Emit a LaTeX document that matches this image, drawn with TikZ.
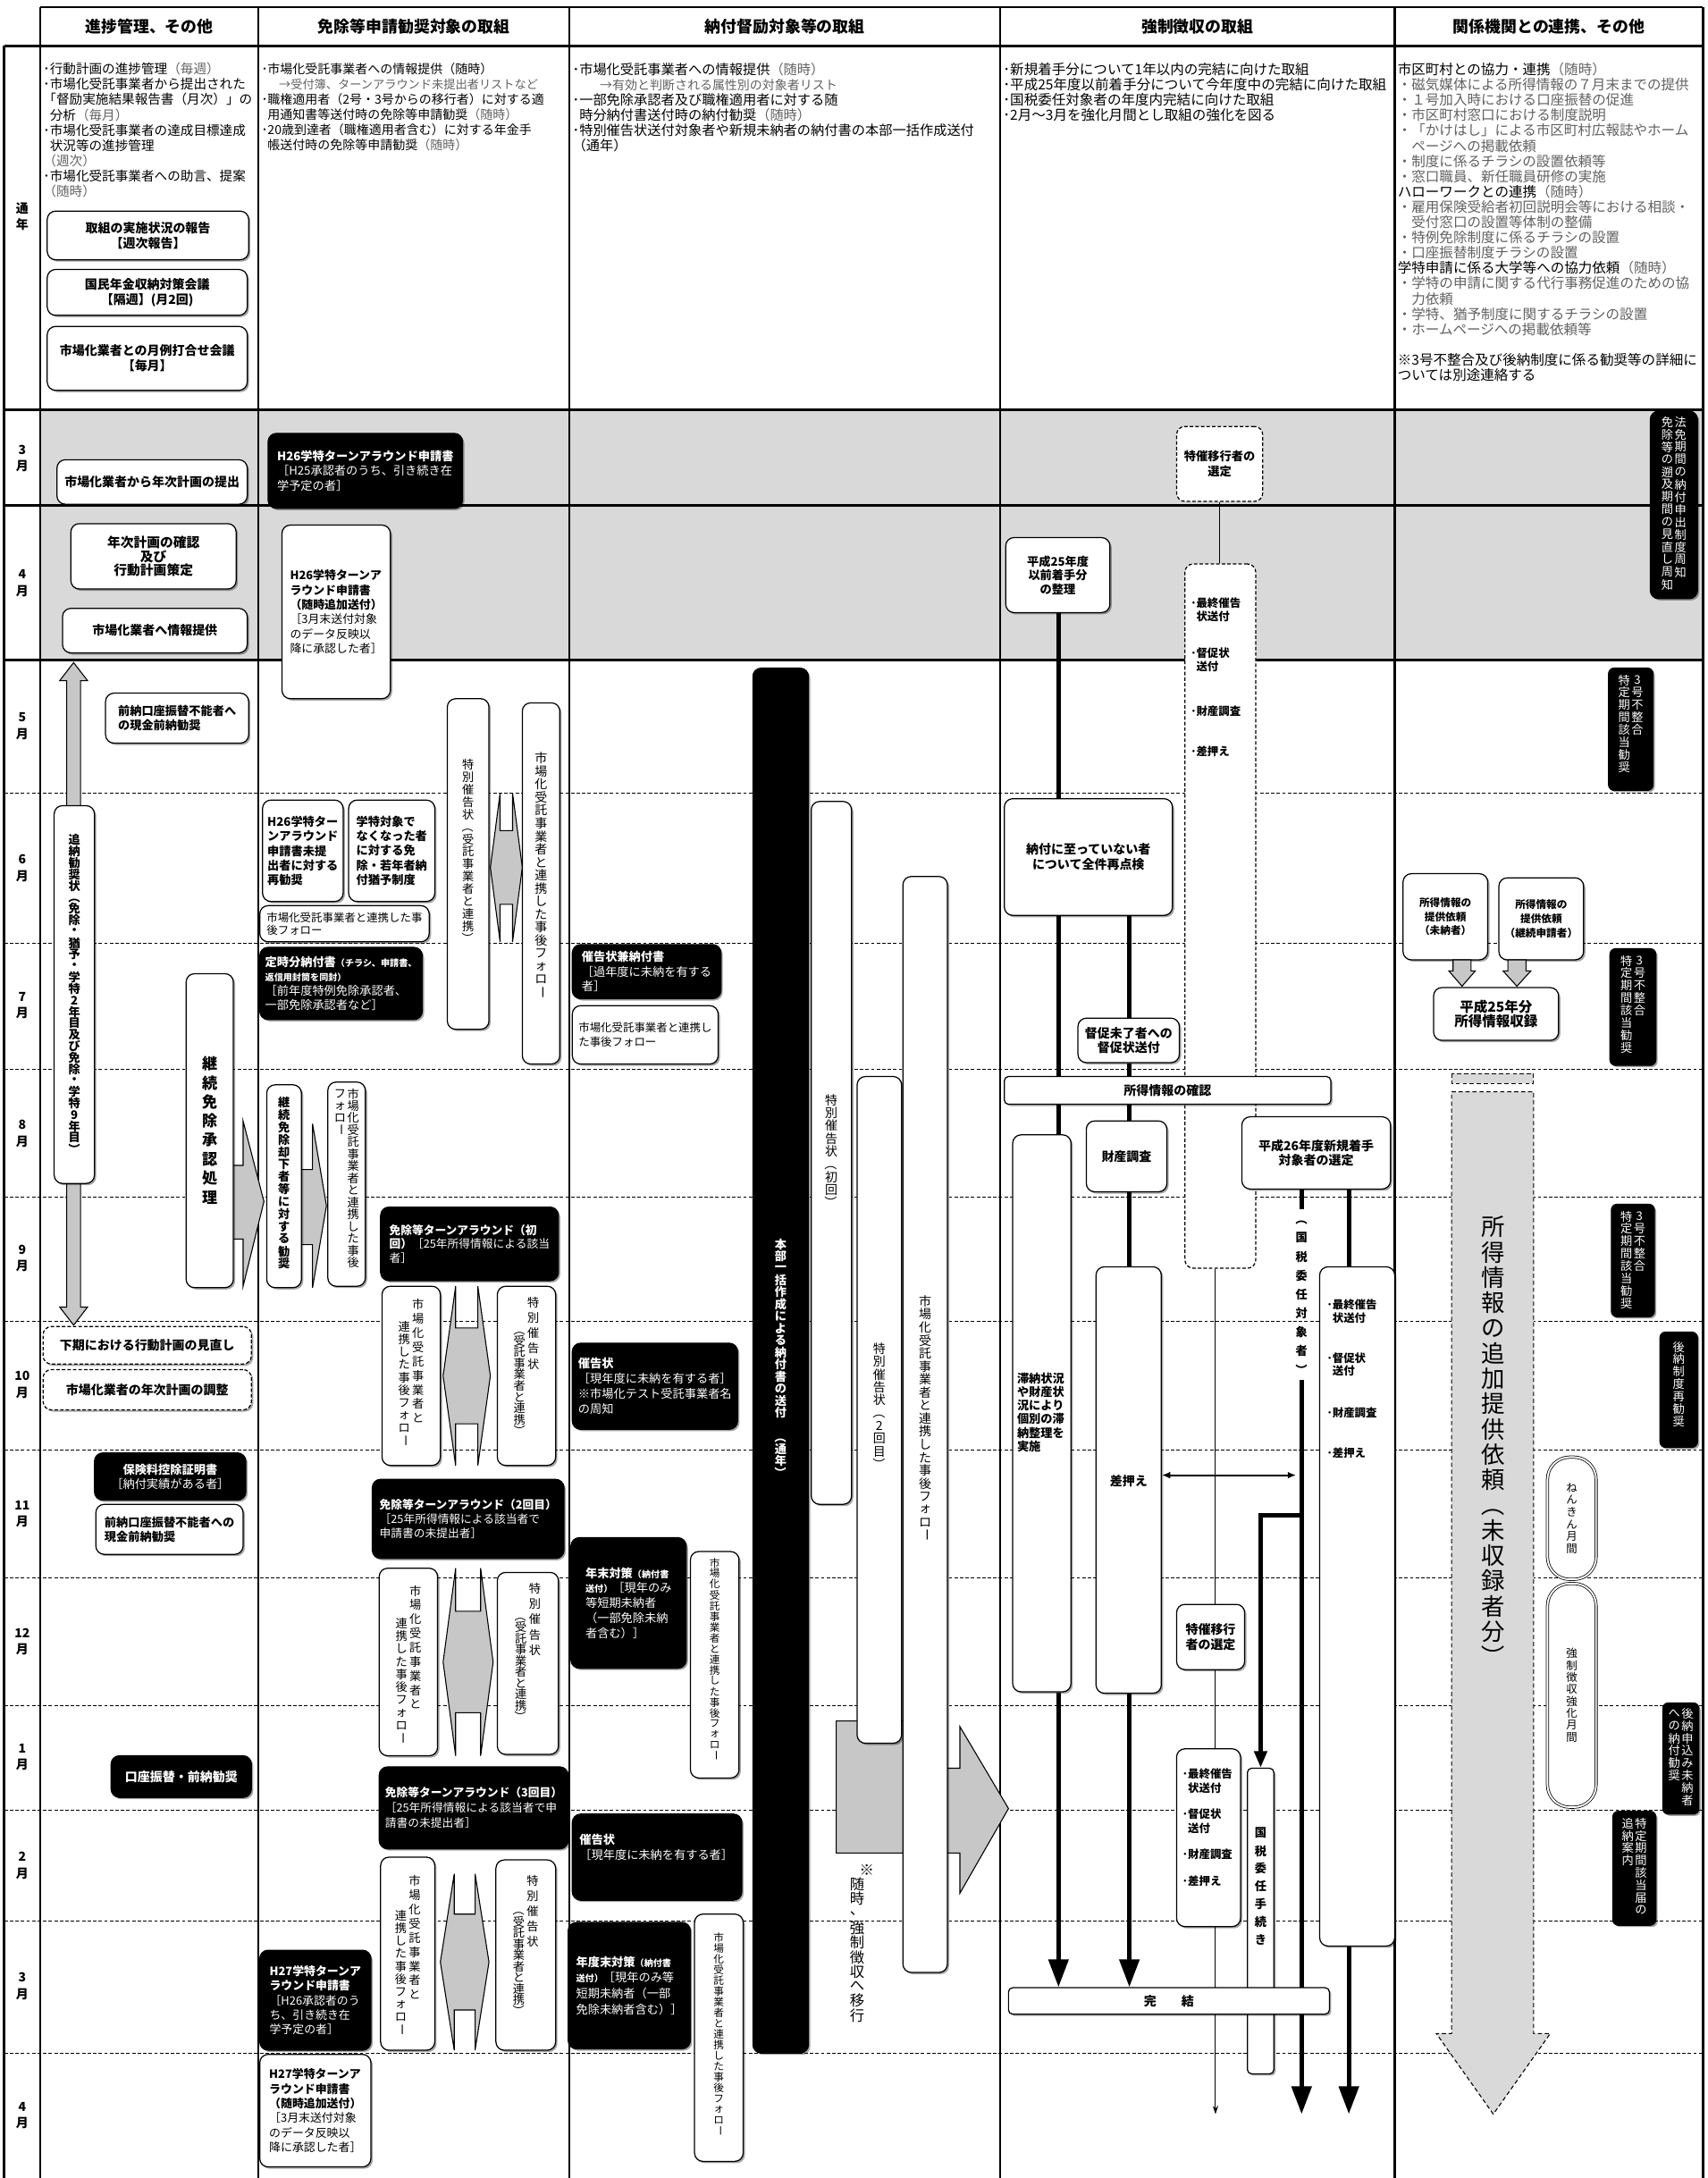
\documentclass[tikz,border=0pt]{standalone}
\usepackage{fontspec}
\setmainfont{Noto Sans CJK JP}
\usepackage{graphicx}
\usetikzlibrary{shadows,arrows.meta}
\definecolor{gtx}{gray}{0.38}
\definecolor{rowg}{gray}{0.85}
\definecolor{arrg}{gray}{0.78}
\newcommand\gr{\color{gtx}}
\newcommand\fBm{\fontsize{9}{11}\selectfont\bfseries}
\newcommand\fB{\fontsize{8.5}{10.5}\selectfont\bfseries}
\newcommand\fS{\fontsize{8.5}{10.5}\selectfont}
\newcommand\vpl{\rotatebox[origin=c]{-90}{（}}
\newcommand\vpr{\rotatebox[origin=c]{-90}{）}}
\newcommand\vbar{\rotatebox[origin=c]{-90}{ー}}
\makeatletter
\def\vt@stop{\vt@stop}
\newcommand\vtext[2][1.05]{\vtop{\offinterlineskip\def\vt@p{#1}\vt@loop#2\vt@stop}}
\def\vt@loop#1{\ifx\vt@stop#1\else\hbox to 1em{\hss\vbox to \vt@p em{\vss\hbox{#1}\vss}\hss}\expandafter\vt@loop\fi}
\makeatother
\newcommand\vcolumn[3][0pt]{\vtop{\kern#1\hbox{\vtext[#2]{#3}}}}
\newcommand\bxn[8][]{%
 \pgfmathsetmacro\bxW{#6-#4}\pgfmathsetmacro\bxH{#7-#5}%
 \pgfmathsetmacro\bxX{(#4+#6)/2}\pgfmathsetmacro\bxY{(#5+#7)/2}%
 \node[#2,minimum width=\bxW pt,minimum height=\bxH pt,#1] (#3) at (\bxX,\bxY) {#8};}
\newcommand\lra[6]{\draw[garr] (#1,#2+#4/2) -- (#1+#5,#2) -- (#1+#5,#2+#6) -- (#1+#3-#5,#2+#6) -- (#1+#3-#5,#2) -- (#1+#3,#2+#4/2) -- (#1+#3-#5,#2+#4) -- (#1+#3-#5,#2+#4-#6) -- (#1+#5,#2+#4-#6) -- (#1+#5,#2+#4) -- cycle;}
\pgfdeclarelayer{back}\pgfdeclarelayer{mid}\pgfsetlayers{back,mid,main}
\tikzset{
 mline/.style={line width=1.6pt},
 dline/.style={line width=0.6pt,dash pattern=on 2.5pt off 1.5pt},
 shd/.style={drop shadow={shadow xshift=1.3pt,shadow yshift=-1.3pt,fill=black,opacity=0.35}},
 wbox/.style={draw,line width=0.8pt,rounded corners=6pt,fill=white,inner sep=1.5pt,shd},
 blkbox/.style={wbox,fill=black,text=white},
 dbox/.style={draw,line width=0.8pt,rounded corners=6pt,fill=white,inner sep=1.5pt,dash pattern=on 2.5pt off 1.5pt},
 sbox/.style={wbox,rounded corners=3pt},
 stad/.style={draw,line width=0.5pt,double,double distance=1.2pt,rounded corners=16pt,fill=white,inner sep=0pt},
 thk/.style={line width=3.3pt},
 thinln/.style={line width=0.6pt},
 garr/.style={draw=black,line width=0.7pt,fill=arrg},
 dasharr/.style={draw,line width=0.7pt,dash pattern=on 3pt off 2pt,fill=rowg},
 vtxt/.style={inner sep=0pt,font=\fontsize{8.5}{8.5}\selectfont},
 itm/.style={anchor=west,inner sep=0pt,font=\fontsize{8}{9}\selectfont\bfseries},
 hdr/.style={inner sep=0pt,font=\fontsize{11.5}{13}\selectfont\bfseries},
 mlab/.style={align=center,inner sep=0pt,font=\fontsize{9}{12}\selectfont\bfseries},
 bodyt/.style={anchor=north west,inner sep=0pt,align=left},
}
\begin{document}
\begin{tikzpicture}[x=1pt,y=-1pt]
\useasboundingbox (0,0) rectangle (1229,1568);
\begin{pgfonlayer}{back}
 \fill[white] (0,0) rectangle (1229,1568);
 \fill[rowg] (29,295) rectangle (1226,475);
 \foreach \yy in {571,679,770,862,951,1044,1136,1228,1303,1383,1478} \draw[dline] (3,\yy) -- (1226,\yy);
 \draw[mline] (29,5) -- (1226,5);
 \draw[mline] (3,33) -- (1226,33);
 \foreach \yy in {295,364,475} \draw[mline] (3,\yy) -- (1226,\yy);
 \draw[mline] (3,33) -- (3,1568);
 \foreach \xx in {29,186,410,720,1004,1226} \draw[mline] (\xx,5) -- (\xx,1568);
\end{pgfonlayer}
% headers
\node[hdr] (h1) at (107.5,19) {進捗管理、その他};
\node[hdr] (h2) at (298,19) {免除等申請勧奨対象の取組};
\node[hdr] (h3) at (565,19) {納付督励対象等の取組};
\node[hdr] (h4) at (862,19) {強制徴収の取組};
\node[hdr] (h5) at (1115,19) {関係機関との連携、その他};
% month labels
\node[mlab] (m0) at (16,156) {通\\年};
\node[mlab] (m1) at (16,330) {3\\月};
\node[mlab] (m2) at (16,420) {4\\月};
\node[mlab] (m3) at (16,523) {5\\月};
\node[mlab] (m4) at (16,625) {6\\月};
\node[mlab] (m5) at (16,724) {7\\月};
\node[mlab] (m6) at (16,816) {8\\月};
\node[mlab] (m7) at (16,906) {9\\月};
\node[mlab] (m8) at (16,997) {10\\月};
\node[mlab] (m9) at (16,1090) {11\\月};
\node[mlab] (m10) at (16,1182) {12\\月};
\node[mlab] (m11) at (16,1265) {1\\月};
\node[mlab] (m12) at (16,1343) {2\\月};
\node[mlab] (m13) at (16,1430) {3\\月};
\node[mlab] (m14) at (16,1523) {4\\月};
% year-round texts
\node[bodyt,font=\fontsize{9.4}{11}\selectfont] (t1) at (31,45) {･行動計画の進捗管理{\gr（毎週）}\\･市場化受託事業者から提出された\\「督励実施結果報告書（月次）」の\\\kern.5em 分析{\gr（毎月）}\\･市場化受託事業者の達成目標達成\\\kern.5em 状況等の進捗管理\\{\gr（週次）}\\･市場化受託事業者への助言、提案\\{\gr（随時）}};
\node[bodyt,font=\fontsize{9}{11}\selectfont] (t2) at (188,45) {･市場化受託事業者への情報提供（随時）\\\kern1.4em{\gr\fontsize{8.5}{11}\selectfont →受付簿、ターンアラウンド未提出者リストなど}\\･職権適用者（2号・3号からの移行者）に対する適\\\kern.5em 用通知書等送付時の免除等申請勧奨{\gr（随時）}\\･20歳到達者（職権適用者含む）に対する年金手\\\kern.5em 帳送付時の免除等申請勧奨{\gr（随時）}};
\node[bodyt,font=\fontsize{9.8}{11}\selectfont] (t3) at (412,45) {･市場化受託事業者への情報提供{\gr（随時）}\\\kern2em{\gr\fontsize{9}{11}\selectfont →有効と判断される属性別の対象者リスト}\\･一部免除承認者及び職権適用者に対する随\\\kern.5em 時分納付書送付時の納付勧奨{\gr（随時）}\\･特別催告状送付対象者や新規未納者の納付書の本部一括作成送付\\（通年）};
\node[bodyt,font=\fontsize{10}{11}\selectfont] (t4) at (722,45) {･新規着手分について1年以内の完結に向けた取組\\･平成25年度以前着手分について今年度中の完結に向けた取組\\･国税委任対象者の年度内完結に向けた取組\\･2月～3月を強化月間とし取組の強化を図る};
\node[bodyt,font=\fontsize{10}{11}\selectfont] (t5) at (1006,45) {市区町村との協力・連携{\gr（随時）}\\{\gr ・磁気媒体による所得情報の７月末までの提供}\\{\gr ・１号加入時における口座振替の促進}\\{\gr ・市区町村窓口における制度説明}\\{\gr ・「かけはし」による市区町村広報誌やホーム}\\{\gr \kern1em ページへの掲載依頼}\\{\gr ・制度に係るチラシの設置依頼等}\\{\gr ・窓口職員、新任職員研修の実施}\\ハローワークとの連携{\gr（随時）}\\{\gr ・雇用保険受給者初回説明会等における相談・}\\{\gr \kern1em 受付窓口の設置等体制の整備}\\{\gr ・特例免除制度に係るチラシの設置}\\{\gr ・口座振替制度チラシの設置}\\学特申請に係る大学等への協力依頼{\gr（随時）}\\{\gr ・学特の申請に関する代行事務促進のための協}\\{\gr \kern1em 力依頼}\\{\gr ・学特、猶予制度に関するチラシの設置}\\{\gr ・ホームページへの掲載依頼等}\\[11pt]※3号不整合及び後納制度に係る勧奨等の詳細に\\ついては別途連絡する};
% col1 year boxes
\bxn[font=\fBm,align=center]{wbox}{b1}{34}{152}{179}{187}{取組の実施状況の報告\\【週次報告】}
\bxn[font=\fBm,align=center]{wbox}{b2}{34}{194}{178}{227}{国民年金収納対策会議\\【隔週】(月2回)}
\bxn[font=\fBm,align=center]{wbox}{b3}{34}{235}{178}{281}{市場化業者との月例打合せ会議\\【毎月】}
% March
\bxn[font=\fBm]{wbox}{b4}{41}{331}{178}{363}{市場化業者から年次計画の提出}
\bxn[font=\fS,align=left]{blkbox}{b5}{193}{312}{333}{366}{\textbf{H26学特ターンアラウンド申請書}\\［H25承認者のうち、引き続き在\\学予定の者］}
\bxn[font=\fB,align=center]{dbox}{b6}{847}{307}{909}{361}{特催移行者の\\選定}
\bxn{blkbox}{b7}{1188}{296}{1222}{431}{}
\node[vtxt,text=white,anchor=north] (tb7) at (1205,299) {\vcolumn{1.06}{免除等の遡及期間の見直し周知}\kern1pt\vcolumn{1.06}{法免期間の納付申出制度周知}};
% April
\bxn[font=\fontsize{9.5}{10}\selectfont\bfseries,align=center]{wbox}{b8}{51}{377}{170}{424}{年次計画の確認\\及び\\行動計画策定}
\bxn[font=\fBm]{wbox}{b9}{45}{438}{178}{470}{市場化業者へ情報提供}
\bxn[font=\fontsize{8.3}{10.5}\selectfont,align=left]{wbox}{b10}{203}{378}{281}{503}{\textbf{H26学特ターンア}\\\textbf{ラウンド申請書}\\\textbf{（随時追加送付）}\\［3月末送付対象\\のデータ反映以\\降に承認した者］}
\bxn[font=\fontsize{8.5}{10}\selectfont\bfseries,align=center]{wbox}{b11}{724}{387}{799}{441}{平成25年度\\以前着手分\\の整理}
\bxn{dbox}{b12}{853}{406}{904}{913}{}
\node[itm] (i1) at (857,434) {･最終催告};
\node[itm] (i2) at (857,444) {\kern.5em 状送付};
\node[itm] (i3) at (857,470) {･督促状};
\node[itm] (i4) at (857,480) {\kern.5em 送付};
\node[itm] (i5) at (857,512) {･財産調査};
\node[itm] (i6) at (857,541) {･差押え};
% col1 May-
\bxn{wbox}{b13}{39}{580}{68}{852}{}
\node[vtxt,font=\fontsize{8.5}{8.5}\selectfont\bfseries] (tb13) at (b13) {\vtext[0.97]{追納勧奨状\vpl 免除・猶予・学特2年目及び免除・学特9年目\vpr}};
\bxn[font=\fB,align=left]{wbox}{b14}{76}{499}{179}{535}{前納口座振替不能者へ\\の現金前納勧奨}
% col2 May-July
\bxn{wbox}{b15}{322}{503}{352}{741}{}
\node[vtxt,anchor=north] (tb15) at (337,546) {\vtext[1.05]{特別催告状\vpl 受託事業者と連携\vpr}};
\bxn{wbox}{b16}{376}{506}{403}{766}{}
\node[vtxt,font=\fontsize{9}{9}\selectfont,anchor=north] (tb16) at (389.5,541) {\vtext[1.04]{市場化受託事業者と連携した事後フォロ\vbar}};
\bxn[font=\fB,align=left]{wbox}{b17}{189}{576}{247}{649}{H26学特ター\\ンアラウンド\\申請書未提\\出者に対する\\再勧奨}
\bxn[font=\fB,align=left]{wbox}{b18}{251}{576}{313}{649}{学特対象で\\なくなった者\\に対する免\\除・若年者納\\付猶予制度}
\bxn[font=\fontsize{8}{9}\selectfont,align=left]{wbox}{b19}{187}{652}{309}{678}{市場化受託事業者と連携した事\\後フォロー}
\bxn[font=\fS,align=left]{blkbox}{b20}{187}{682}{304}{734}{\textbf{定時分納付書}{\fontsize{6.5}{10}\selectfont\bfseries（チラシ、申請書、}\\{\fontsize{6.5}{10}\selectfont\bfseries 返信用封筒を同封）}\\［前年度特例免除承認者、\\一部免除承認者など］}
% col1 July-Sept
\bxn{wbox}{b21}{134}{701}{168}{927}{}
\node[vtxt,font=\fontsize{11}{11}\selectfont\bfseries] (tb21) at (b21) {\vtext[1.25]{継続免除承認処理}};
\bxn{wbox}{b22}{192}{781}{217}{927}{}
\node[vtxt,font=\fontsize{8.5}{8.5}\selectfont\bfseries,anchor=north] (tb22) at (204.5,789) {\vtext[1.05]{継続免除却下者等に対する勧奨}};
\bxn{wbox}{b23}{236}{779}{263}{926}{}
\node[vtxt,anchor=north] (tb23) at (249.5,783) {\vcolumn{1.02}{フォロ\vbar}\kern1pt\vcolumn{1.02}{市場化受託事業者と連携した事後}};
\bxn[font=\fontsize{8.2}{10}\selectfont,align=left]{blkbox}{b24}{274}{869}{402}{922}{\textbf{免除等ターンアラウンド（初}\\\textbf{回）}［25年所得情報による該当\\者］}
% Oct col2
\bxn{wbox}{b25}{275}{926}{317}{1055}{}
\node[vtxt,anchor=north] (tb25) at (296,934) {\vcolumn[16pt]{1.08}{連携した事後フォロ\vbar}\kern1.5pt\vcolumn{1.2}{市場化受託事業者と}};
\bxn{wbox}{b26}{358}{926}{400}{1055}{}
\node[vtxt,anchor=north] (tb26) at (379,932) {\vcolumn[21pt]{0.95}{\vpl 受託事業者と連携\vpr}\kern1.5pt\vcolumn{1.3}{特別催告状}};
\bxn[font=\fBm,shd]{dbox}{b27}{31}{955}{181}{982}{下期における行動計画の見直し}
\bxn[font=\fBm,shd]{dbox}{b28}{31}{986}{181}{1015}{市場化業者の年次計画の調整}
% Nov
\bxn[font=\fS,align=center]{blkbox}{b29}{68}{1046}{177}{1080}{\textbf{保険料控除証明書}\\［納付実績がある者］}
\bxn[font=\fB,align=left]{wbox}{b30}{69}{1083}{175}{1119}{前納口座振替不能者への\\現金前納勧奨}
\bxn[font=\fontsize{8.2}{10}\selectfont,align=left]{blkbox}{b31}{268}{1065}{406}{1122}{\textbf{免除等ターンアラウンド（2回目）}\\［25年所得情報による該当者で\\申請書の未提出者］}
% Dec
\bxn{wbox}{b32}{273}{1129}{315}{1264}{}
\node[vtxt,anchor=north] (tb32) at (294,1140) {\vcolumn[24pt]{1.08}{連携した事後フォロ\vbar}\kern1.5pt\vcolumn{1.2}{市場化受託事業者と}};
\bxn{wbox}{b33}{358}{1132}{402}{1263}{}
\node[vtxt,anchor=north] (tb33) at (380,1138) {\vcolumn[21pt]{0.95}{\vpl 受託事業者と連携\vpr}\kern1.5pt\vcolumn{1.3}{特別催告状}};
% Jan
\bxn[font=\fBm]{blkbox}{b34}{80}{1264}{181}{1294}{口座振替・前納勧奨}
\bxn[font=\fontsize{8.2}{11}\selectfont,align=left]{blkbox}{b35}{273}{1272}{409}{1331}{\textbf{免除等ターンアラウンド（3回目）}\\［25年所得情報による該当者で申\\請書の未提出者］}
% Feb-Mar
\bxn{wbox}{b36}{274}{1337}{313}{1476}{}
\node[vtxt,anchor=north] (tb36) at (293.5,1349) {\vcolumn[25pt]{1.08}{連携した事後フォロ\vbar}\kern1.5pt\vcolumn{1.2}{市場化受託事業者と}};
\bxn{wbox}{b37}{357}{1339}{400}{1476}{}
\node[vtxt,anchor=north] (tb37) at (378.5,1348) {\vcolumn[23pt]{0.95}{\vpl 受託事業者と連携\vpr}\kern1.5pt\vcolumn{1.3}{特別催告状}};
\bxn[font=\fontsize{8.3}{10.5}\selectfont,align=left]{blkbox}{b38}{187}{1404}{267}{1476}{\textbf{H27学特ターンア}\\\textbf{ラウンド申請書}\\［H26承認者のう\\ち、引き続き在\\学予定の者］}
\bxn[font=\fontsize{8.3}{10.5}\selectfont,align=left]{wbox}{b39}{187}{1479}{267}{1560}{\textbf{H27学特ターンア}\\\textbf{ラウンド申請書}\\\textbf{（随時追加送付）}\\［3月末送付対象\\のデータ反映以\\降に承認した者］}
% col3
\bxn{blkbox}{c1}{542}{481}{582}{1478}{}
\node[vtxt,text=white,font=\fontsize{8.5}{8.5}\selectfont\bfseries] (tc1) at (562,978) {\vtext[1.02]{本部一括作成による納付書の送付　\vpl 通年\vpr}};
\bxn{wbox}{c2}{584}{577}{613}{1083}{}
\node[vtxt,font=\fontsize{9}{9}\selectfont,anchor=north] (tc2) at (598.5,787) {\vtext[1.03]{特別催告状\vpl 初回\vpr}};
\bxn{wbox}{c3}{617}{775}{649}{1255}{}
\node[vtxt,font=\fontsize{9}{9}\selectfont,anchor=north] (tc3) at (633,966) {\vtext[1.03]{特別催告状\vpl 2回目\vpr}};
\bxn{wbox}{c4}{650}{631}{682}{1420}{}
\node[vtxt,font=\fontsize{9}{9}\selectfont,anchor=north] (tc4) at (666,932) {\vtext[1.04]{市場化受託事業者と連携した事後フォロ\vbar}};
\bxn[font=\fS,align=left]{blkbox}{c5}{412}{680}{519}{719}{\textbf{催告状兼納付書}\\［過年度に未納を有する\\者］}
\bxn[font=\fontsize{8}{10}\selectfont,align=left]{wbox}{c6}{412}{724}{517}{766}{市場化受託事業者と連携し\\た事後フォロー}
\bxn[font=\fontsize{8.5}{11}\selectfont,align=left]{blkbox}{c7}{412}{967}{531}{1029}{\textbf{催告状}\\［現年度に未納を有する者］\\※市場化テスト受託事業者名\\の周知}
\bxn[font=\fontsize{8.5}{10.8}\selectfont,align=left]{blkbox}{c8}{411}{1107}{494}{1201}{\textbf{年末対策}{\fontsize{6.5}{10.8}\selectfont\bfseries（納付書}\\{\fontsize{6.5}{10.8}\selectfont\bfseries 送付）}［現年のみ\\等短期未納者\\（一部免除未納\\者含む）］}
\bxn{wbox}{c9}{497}{1117}{532}{1280}{}
\node[vtxt,font=\fontsize{7.5}{7.5}\selectfont,anchor=north] (tc9) at (514.5,1121) {\vtext[1.03]{市場化受託事業者と連携した事後フォロ\vbar}};
\bxn{blkbox}{c10}{412}{1306}{534}{1368}{}
\node[anchor=north west,inner sep=0pt,text=white,align=left,font=\fontsize{8.5}{11}\selectfont] (tc10) at (417,1320) {\textbf{催告状}\\［現年度に未納を有する者］};
\bxn[font=\fontsize{8.5}{11.5}\selectfont,align=left]{blkbox}{c11}{409}{1384}{497}{1475}{\textbf{年度末対策}{\fontsize{6.5}{11.5}\selectfont\bfseries（納付書}\\{\fontsize{6.5}{11.5}\selectfont\bfseries 送付）}［現年のみ等\\短期未納者（一部\\免除未納者含む）］}
\bxn{wbox}{c12}{500}{1378}{535}{1556}{}
\node[vtxt,font=\fontsize{7.5}{7.5}\selectfont,anchor=north] (tc12) at (517.5,1391) {\vtext[1.03]{市場化受託事業者と連携した事後フォロ\vbar}};
\node[inner sep=0pt,font=\fontsize{10.5}{10.5}\selectfont] (tz1) at (624,1346) {※};
\node[vtxt,font=\fontsize{10.5}{10.5}\selectfont,anchor=north] (tz2) at (617,1351) {\vtext[1.0]{随時、強制徴収へ移行}};
% col4
\bxn[font=\fBm,align=center]{wbox}{d1}{723}{575}{844}{659}{納付に至っていない者\\について全件再点検}
\bxn[font=\fontsize{9}{10}\selectfont\bfseries,align=center]{wbox}{d2}{776}{733}{849}{765}{督促未了者への\\督促状送付}
\bxn[font=\fBm]{sbox}{bar1}{723}{775}{958}{795}{所得情報の確認}
\bxn[font=\fBm]{wbox}{d4}{782}{807}{840}{858}{財産調査}
\bxn[font=\fontsize{9}{10}\selectfont\bfseries,align=center]{wbox}{d5}{894}{804}{1001}{856}{平成26年度新規着手\\対象者の選定}
\bxn{wbox}{d6}{729}{817}{771}{1218}{}
\node[anchor=north west,inner sep=0pt,align=left,font=\fontsize{8.5}{9.8}\selectfont\bfseries] (td6) at (732,988) {滞納状況\\や財産状\\況により\\個別の滞\\納整理を\\実施};
\bxn{wbox}{d7}{789}{912}{836}{1219}{}
\node[inner sep=0pt,font=\fBm] (td7) at (812.5,1066) {差押え};
\bxn{wbox}{d8}{950}{912}{1004}{1401}{}
\node[itm] (j1) at (955,939) {･最終催告};
\node[itm] (j2) at (955,949) {\kern.5em 状送付};
\node[itm] (j3) at (955,978) {･督促状};
\node[itm] (j4) at (955,987) {\kern.5em 送付};
\node[itm] (j5) at (955,1017) {･財産調査};
\node[itm] (j6) at (955,1046) {･差押え};
\node[vtxt,font=\fontsize{8.5}{8.5}\selectfont\bfseries] (kt) at (937,932) {\vtext[1.6]{\vpl 国税委任対象者\vpr}};
\bxn[font=\fBm,align=center]{wbox}{d10}{847}{1155}{896}{1202}{特催移行\\者の選定}
\bxn{wbox}{d11}{847}{1259}{893}{1387}{}
\node[itm] (k1) at (851,1277) {･最終催告};
\node[itm] (k2) at (851,1287) {\kern.5em 状送付};
\node[itm] (k3) at (851,1306) {･督促状};
\node[itm] (k4) at (851,1316) {\kern.5em 送付};
\node[itm] (k5) at (851,1335) {･財産調査};
\node[itm] (k6) at (851,1354) {･差押え};
\bxn{sbox}{d12}{898}{1273}{917}{1493}{}
\node[vtxt,font=\fontsize{8.5}{8.5}\selectfont\bfseries] (td12) at (907.5,1358) {\vtext[1.5]{国税委任手続き}};
\bxn[font=\fBm]{sbox}{d13}{726}{1431}{957}{1450}{完\hspace{2em}結}
% col5
\bxn[rounded corners=4pt]{blkbox}{e1}{1158}{481}{1190}{569}{}
\node[vtxt,text=white,anchor=north] (te1) at (1174,485) {\vcolumn{1.05}{特定期間該当勧奨}\kern1pt\vcolumn{1.05}{3号不整合}};
\bxn[rounded corners=4pt]{blkbox}{e2}{1159}{683}{1192}{767}{}
\node[vtxt,text=white,anchor=north] (te2) at (1175.5,687) {\vcolumn{1.05}{特定期間該当勧奨}\kern1pt\vcolumn{1.05}{3号不整合}};
\bxn[rounded corners=4pt]{blkbox}{e3}{1160}{867}{1191}{948}{}
\node[vtxt,text=white,anchor=north] (te3) at (1175.5,871) {\vcolumn{1.05}{特定期間該当勧奨}\kern1pt\vcolumn{1.05}{3号不整合}};
\bxn[rounded corners=4pt]{blkbox}{e4}{1195}{959}{1222}{1042}{}
\node[vtxt,text=white,anchor=north] (te4) at (1208.5,965) {\vtext[1.05]{後納制度再勧奨}};
\bxn[rounded corners=4pt]{blkbox}{e5}{1197}{1226}{1223}{1306}{}
\node[vtxt,text=white,anchor=north] (te5) at (1210,1229) {\vcolumn{1.05}{への納付勧奨}\kern1pt\vcolumn{1.05}{後納申込み未納者}};
\bxn[rounded corners=4pt]{blkbox}{e6}{1161}{1304}{1192}{1386}{}
\node[vtxt,text=white,anchor=north] (te6) at (1176.5,1308) {\vcolumn{1.05}{追納案内}\kern1pt\vcolumn{1.05}{特定期間該当届の}};
\bxn[font=\fontsize{7.5}{10}\selectfont\bfseries,align=center]{wbox}{e7}{1010}{629}{1071}{691}{所得情報の\\提供依頼\\（未納者）}
\bxn[font=\fontsize{7.5}{10}\selectfont\bfseries,align=center]{wbox}{e8}{1079}{632}{1140}{691}{所得情報の\\提供依頼\\（継続申請者）}
\draw[garr] (1046,691) -- (1059,691) -- (1059,699) -- (1062,699) -- (1052.5,710) -- (1043,699) -- (1046,699) -- cycle;
\draw[garr] (1085.5,691) -- (1098.5,691) -- (1098.5,699) -- (1102,699) -- (1092,710) -- (1082,699) -- (1085.5,699) -- cycle;
\bxn[font=\fontsize{10}{10}\selectfont\bfseries,align=center]{wbox}{e9}{1032}{711}{1122}{749}{平成25年分\\所得情報収録}
\draw[dasharr] (1045,773) rectangle (1104,780);
\draw[dasharr] (1045,786) -- (1104,786) -- (1104,1464) -- (1116,1464) -- (1075,1522) -- (1034,1464) -- (1045,1464) -- cycle;
\node[vtxt,font=\fontsize{17}{17}\selectfont] (bigt) at (1075,1038) {\vtext[1.07]{所得情報の追加提供依頼\vpl 未収録者分\vpr}};
\bxn{stad}{e10}{1114}{1049}{1149}{1137}{}
\node[vtxt,font=\fontsize{8}{8}\selectfont] (te10) at (e10) {\vtext[1.1]{ねんきん月間}};
\bxn{stad}{e11}{1114}{1140}{1149}{1301}{}
\node[vtxt,font=\fontsize{8}{8}\selectfont] (te11) at (e11) {\vtext[1.08]{強制徴収強化月間}};
% connectors and background shapes
\begin{pgfonlayer}{mid}
 \draw[garr] (53,477) -- (63,490) -- (58,490) -- (58,941) -- (63,941) -- (53,954) -- (43,941) -- (48,941) -- (48,490) -- (43,490) -- cycle;
 \draw[garr] (167,839) -- (175,839) -- (175,807) -- (190,865) -- (175,926) -- (175,892) -- (167,892) -- cycle;
 \draw[garr] (217,842) -- (225,842) -- (225,809) -- (235,868) -- (225,927) -- (225,896) -- (217,896) -- cycle;
 \lra{353}{571}{23}{107}{7}{27}
 \lra{319}{926}{34}{129}{9}{30}
 \lra{319}{1129}{36}{135}{9}{31}
 \lra{317}{1349}{35}{127}{10}{29}
 \draw[garr] (602,1239) -- (662,1239) -- (662,1273) -- (691,1273) -- (691,1243) -- (726,1302) -- (691,1363) -- (691,1334) -- (602,1334) -- cycle;
 \coordinate (X1) at (762,0);
 \coordinate (X2) at (813,0);
 \coordinate (X3) at (937,0);
 \coordinate (X4) at (971,0);
 \coordinate (XT) at (875,0);
 \coordinate (YB) at (0,1522);
 \coordinate (da) at (933,1062);
 \coordinate (br) at (937,1091);
 \draw[thk] (X1 |- b11.south) -- (X1 |- d1.north);
 \draw[thk] (X1 |- d1.south) -- (X1 |- d6.north);
 \draw[thk,-{Triangle[length=20pt,width=14pt]}] (X1 |- d6.south) -- (X1 |- d13.north);
 \draw[thk] (X2 |- d1.south) -- (X2 |- d2.north);
 \draw[thk] (X2 |- d2.south) -- (X2 |- d4.north);
 \draw[thk] (X2 |- d4.south) -- (X2 |- d7.north);
 \draw[thk,-{Triangle[length=20pt,width=14pt]}] (X2 |- d7.south) -- (X2 |- d13.north);
 \draw[thk] (X3 |- d5.south) -- (X3 |- kt.north);
 \draw[thk,-{Triangle[length=20pt,width=14pt]}] (X3 |- kt.south) -- (X3 |- YB);
 \draw[thk,-{Triangle[length=12pt,width=9pt]}] (br) -| (d12.north);
 \draw[thk] (X4 |- d5.south) -- (X4 |- d8.north);
 \draw[thk,-{Triangle[length=20pt,width=14pt]}] (X4 |- d8.south) -- (X4 |- YB);
 \draw[thinln] (b6.south) -- (b6.south |- b12.north);
 \draw[thinln] (XT |- b12.south) -- (XT |- d10.north);
 \draw[thinln] (XT |- d10.south) -- (XT |- d11.north);
 \draw[thinln,-{Stealth[length=6pt,width=4pt]}] (XT |- d11.south) -- (XT |- YB);
 \draw[line width=1.3pt,{Latex[length=6pt,width=5pt]}-{Latex[length=6pt,width=5pt]}] (d7.east |- da) -- (da);
\end{pgfonlayer}
\end{tikzpicture}
\end{document}
